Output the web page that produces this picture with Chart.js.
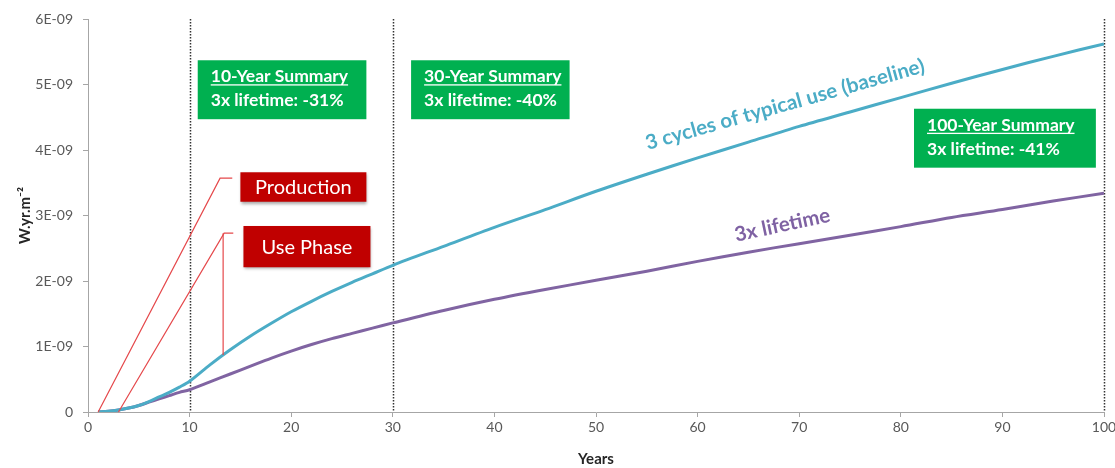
<!DOCTYPE html>
<html lang="en">
<head>
    <meta charset="UTF-8">
    <title>Cumulative impact over time</title>
    <style>
        body {
            margin: 0;
            padding: 0;
            background: #FFFFFF;
        }

        .chart-wrap {
            width: 1115px;
            height: 468px;
            position: relative;
        }
    </style>
    <script src="https://cdn.jsdelivr.net/npm/chart.js"></script>
</head>
<body>
    <div class="chart-wrap">
        <canvas id="impactChart" width="1115" height="468"></canvas>
    </div>

    <script>
        // Data (values in units of 1E-09 W.yr.m-2)
        const years = [1, 2, 3, 4, 5, 6, 7, 8, 9, 10, 12, 14, 16, 18, 20, 22, 24, 26, 28, 30,
                       35, 40, 45, 50, 55, 60, 65, 70, 75, 80, 85, 90, 95, 100];
        const baseline = [0, 0.01, 0.03, 0.06, 0.10, 0.16, 0.23, 0.30, 0.38, 0.47, 0.72, 0.95, 1.16, 1.35, 1.53,
                          1.69, 1.84, 1.98, 2.11, 2.24, 2.53, 2.82, 3.09, 3.37, 3.63, 3.88, 4.12, 4.36, 4.58,
                          4.80, 5.02, 5.23, 5.43, 5.62];
        const lifetime = [0, 0.01, 0.03, 0.06, 0.10, 0.15, 0.20, 0.25, 0.30, 0.34, 0.46, 0.58, 0.70, 0.82, 0.93,
                          1.03, 1.12, 1.20, 1.28, 1.36, 1.55, 1.72, 1.87, 2.01, 2.15, 2.30, 2.44, 2.57, 2.70,
                          2.83, 2.97, 3.09, 3.22, 3.34];

        const yTicks = [0, 1, 2, 3, 4, 5, 6];
        const markerYears = [10, 30, 100];

        const summaries = [
            { title: '10-Year Summary', text: '3x lifetime: -31%', x0: 10.8, x1: 27.4, y0: 5.37, y1: 4.47 },
            { title: '30-Year Summary', text: '3x lifetime: -40%', x0: 31.8, x1: 47.4, y0: 5.37, y1: 4.47 },
            { title: '100-Year Summary', text: '3x lifetime: -41%', x0: 81.3, x1: 99.2, y0: 4.63, y1: 3.73 }
        ];
        const phaseLabels = [
            { text: 'Production', x0: 15.0, x1: 27.4, y0: 3.66, y1: 3.21 },
            { text: 'Use Phase', x0: 15.3, x1: 27.8, y0: 2.84, y1: 2.21 }
        ];
        // leader lines for the red labels
        const leaders = [
            [[1, 0], [13.0, 3.57], [14.2, 3.57]],
            [[3, 0], [13.4, 2.73], [14.3, 2.73]],
            [[13.3, 2.73], [13.3, 0.87]]
        ];
        const curveLabels = [
            { text: '3 cycles of typical use (baseline)', x: 55.1, y: 4.0, angle: -15.7, color: '#4BACC6' },
            { text: '3x lifetime', x: 63.8, y: 2.6, angle: -12, color: '#7F62A3' }
        ];

        const FONT = "Lato, 'Open Sans', sans-serif";

        const overlayPlugin = {
            id: 'overlay',
            beforeDatasetsDraw(chart) {
                const { ctx, scales: { x, y } } = chart;
                ctx.save();
                ctx.strokeStyle = '#333333';
                ctx.lineWidth = 1.5;
                ctx.setLineDash([1.5, 1.5]);
                markerYears.forEach(yr => {
                    const px = Math.round(x.getPixelForValue(yr)) + 0.5;
                    ctx.beginPath();
                    ctx.moveTo(px, y.getPixelForValue(6));
                    ctx.lineTo(px, y.getPixelForValue(0));
                    ctx.stroke();
                });
                ctx.restore();
            },
            afterDatasetsDraw(chart) {
                const { ctx, scales: { x, y } } = chart;
                ctx.save();

                // red leader lines
                ctx.strokeStyle = '#E5484B';
                ctx.lineWidth = 1.2;
                leaders.forEach(pts => {
                    ctx.beginPath();
                    pts.forEach(([a, b], i) => {
                        const px = x.getPixelForValue(a), py = y.getPixelForValue(b);
                        if (i === 0) ctx.moveTo(px, py); else ctx.lineTo(px, py);
                    });
                    ctx.stroke();
                });

                // red labels
                phaseLabels.forEach(b => {
                    const l = x.getPixelForValue(b.x0), r = x.getPixelForValue(b.x1);
                    const t = y.getPixelForValue(b.y0), btm = y.getPixelForValue(b.y1);
                    ctx.save();
                    ctx.shadowColor = 'rgba(0,0,0,0.35)';
                    ctx.shadowBlur = 3;
                    ctx.shadowOffsetX = 1;
                    ctx.shadowOffsetY = 2;
                    ctx.fillStyle = '#C00000';
                    ctx.fillRect(l, t, r - l, btm - t);
                    ctx.restore();
                    ctx.fillStyle = '#FFFFFF';
                    ctx.font = `20px ${FONT}`;
                    ctx.textAlign = 'center';
                    ctx.textBaseline = 'middle';
                    ctx.fillText(b.text, (l + r) / 2, (t + btm) / 2 + 1);
                });

                // green summaries
                summaries.forEach(b => {
                    const l = x.getPixelForValue(b.x0), r = x.getPixelForValue(b.x1);
                    const t = y.getPixelForValue(b.y0), btm = y.getPixelForValue(b.y1);
                    ctx.fillStyle = '#00B050';
                    ctx.fillRect(l, t, r - l, btm - t);
                    ctx.fillStyle = '#FFFFFF';
                    ctx.font = `bold 17.5px ${FONT}`;
                    ctx.textAlign = 'left';
                    ctx.textBaseline = 'alphabetic';
                    const tx = l + 13;
                    ctx.fillText(b.title, tx, t + 22);
                    const w = ctx.measureText(b.title).width;
                    ctx.fillRect(tx, t + 24, w, 1.3);
                    ctx.fillText(b.text, tx, t + 46);
                });

                // curve labels
                curveLabels.forEach(c => {
                    ctx.save();
                    ctx.translate(x.getPixelForValue(c.x), y.getPixelForValue(c.y));
                    ctx.rotate(c.angle * Math.PI / 180);
                    ctx.fillStyle = c.color;
                    ctx.font = `bold 20.5px ${FONT}`;
                    ctx.textAlign = 'left';
                    ctx.textBaseline = 'alphabetic';
                    ctx.fillText(c.text, 0, 0);
                    ctx.restore();
                });

                ctx.restore();
            }
        };

        const ctx = document.getElementById('impactChart').getContext('2d');
        const chart = new Chart(ctx, {
            type: 'line',
            data: {
                datasets: [{
                    label: '3 cycles of typical use (baseline)',
                    data: years.map((yr, i) => ({ x: yr, y: baseline[i] })),
                    borderColor: '#4BACC6',
                    borderWidth: 3,
                    pointRadius: 0,
                    tension: 0.3
                }, {
                    label: '3x lifetime',
                    data: years.map((yr, i) => ({ x: yr, y: lifetime[i] })),
                    borderColor: '#8064A2',
                    borderWidth: 3,
                    pointRadius: 0,
                    tension: 0.3
                }]
            },
            options: {
                responsive: false,
                animation: false,
                layout: { padding: { top: 19, right: 0, left: 0, bottom: 0 } },
                plugins: {
                    legend: { display: false },
                    tooltip: { enabled: false }
                },
                scales: {
                    x: {
                        type: 'linear',
                        min: 0,
                        max: 100,
                        afterFit: s => { s.height = 56; s.paddingRight = 11; },
                        ticks: {
                            stepSize: 10,
                            color: '#595959',
                            font: { family: FONT, size: 14 },
                            padding: 2,
                            maxRotation: 0
                        },
                        grid: { drawOnChartArea: false, color: '#A6A6A6', tickLength: 5 },
                        border: { color: '#A6A6A6', width: 1 },
                        title: {
                            display: true,
                            text: 'Years',
                            color: '#262626',
                            font: { family: FONT, size: 15, weight: 'bold' },
                            padding: { top: 0, bottom: 0 }
                        }
                    },
                    y: {
                        min: 0,
                        max: 6,
                        afterFit: s => { s.width = 88; },
                        afterBuildTicks: s => { s.ticks = yTicks.map(v => ({ value: v })); },
                        ticks: {
                            color: '#595959',
                            font: { family: FONT, size: 14 },
                            padding: 10,
                            callback: v => v === 0 ? '0' : v + 'E-09'
                        },
                        grid: { drawOnChartArea: false, color: '#A6A6A6', tickLength: 5 },
                        border: { color: '#A6A6A6', width: 1 },
                        title: {
                            display: true,
                            text: 'W.yr.m⁻²',
                            color: '#262626',
                            font: { family: FONT, size: 15, weight: 'bold' },
                            padding: { top: 16, bottom: 0 }
                        }
                    }
                }
            },
            plugins: [overlayPlugin]
        });
    </script>
</body>
</html>
